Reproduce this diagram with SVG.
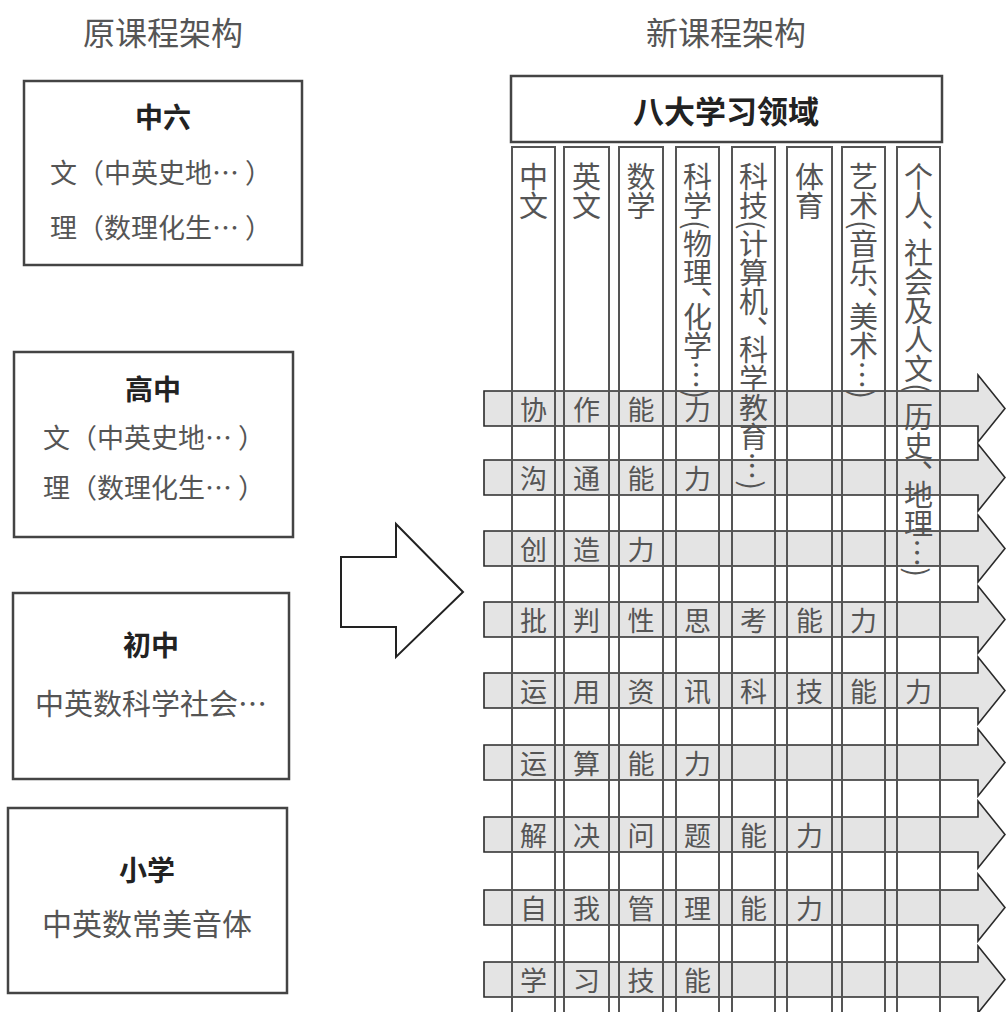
<svg xmlns="http://www.w3.org/2000/svg" width="1006" height="1012" viewBox="0 0 1006 1012">
<style>
text{font-family:"Noto Sans CJK SC","Noto Sans CJK JP",sans-serif;}
.title{font-size:32px;fill:#555;text-anchor:middle;}
.bt{font-size:28px;font-weight:bold;fill:#222;text-anchor:middle;}
.body{font-size:27px;fill:#555;}
.mid{text-anchor:middle;}
.box{fill:#fff;stroke:#444;stroke-width:2.5;}
.col{fill:none;stroke:#555;stroke-width:2;}
.arr{fill:#e4e4e4;stroke:#2a2a2a;stroke-width:1.6;}
.cell{font-size:27px;fill:#555;text-anchor:middle;}
.vh{font-size:29px;fill:#555;writing-mode:vertical-rl;}
.big{fill:#fff;stroke:#222;stroke-width:2;}
</style>
<rect width="1006" height="1012" fill="#fff"/>
<text class="title" x="163" y="45">原课程架构</text>
<text class="title" x="726" y="45">新课程架构</text>

<g id="box-zhongliu">
<rect class="box" x="24" y="81" width="278" height="184"/>
<text class="bt" x="163" y="128">中六</text>
<text class="body" x="50" y="183">文（中英史地…<tspan dx="6">）</tspan></text>
<text class="body" x="50" y="238">理（数理化生…<tspan dx="6">）</tspan></text>
</g>
<g id="box-gaozhong">
<rect class="box" x="14" y="352" width="279" height="185"/>
<text class="bt" x="153" y="400">高中</text>
<text class="body" x="43" y="448">文（中英史地…<tspan dx="6">）</tspan></text>
<text class="body" x="43" y="498">理（数理化生…<tspan dx="6">）</tspan></text>
</g>
<g id="box-chuzhong">
<rect class="box" x="13" y="593" width="276" height="186"/>
<text class="bt" x="151" y="656">初中</text>
<text class="body mid" x="151" y="715" style="font-size:29px">中英数科学社会…</text>
</g>
<g id="box-xiaoxue">
<rect class="box" x="8" y="808" width="279" height="185"/>
<text class="bt" x="147" y="881">小学</text>
<text class="body mid" x="147" y="935" style="font-size:30px">中英数常美音体</text>
</g>

<g id="connectors">
<polygon class="big" points="341,557 396,557 396,524 463,592 396,657 396,627 341,627"/>
</g>

<g id="header">
<rect class="box" x="511" y="76" width="431" height="66"/>
<text class="bt" x="726" y="123" style="font-size:31px">八大学习领域</text>
</g>

<g id="rows">
<g id="row-1"><polygon class="arr" points="484,391 978,391 978,375 1005,408.5 978,442 978,426 484,426"/>
<text class="cell" x="533.5" y="420">协</text><text class="cell" x="586.5" y="420">作</text><text class="cell" x="641" y="420">能</text><text class="cell" x="697.5" y="420">力</text></g>
<g id="row-2"><polygon class="arr" points="484,460 978,460 978,444 1005,477.5 978,511 978,495 484,495"/>
<text class="cell" x="533.5" y="489">沟</text><text class="cell" x="586.5" y="489">通</text><text class="cell" x="641" y="489">能</text><text class="cell" x="697.5" y="489">力</text></g>
<g id="row-3"><polygon class="arr" points="484,531 978,531 978,515 1005,548.5 978,582 978,566 484,566"/>
<text class="cell" x="533.5" y="560">创</text><text class="cell" x="586.5" y="560">造</text><text class="cell" x="641" y="560">力</text></g>
<g id="row-4"><polygon class="arr" points="484,602 978,602 978,586 1005,619.5 978,653 978,637 484,637"/>
<text class="cell" x="533.5" y="631">批</text><text class="cell" x="586.5" y="631">判</text><text class="cell" x="641" y="631">性</text><text class="cell" x="697.5" y="631">思</text><text class="cell" x="753.5" y="631">考</text><text class="cell" x="809.5" y="631">能</text><text class="cell" x="863.5" y="631">力</text></g>
<g id="row-5"><polygon class="arr" points="484,673 978,673 978,657 1005,690.5 978,724 978,708 484,708"/>
<text class="cell" x="533.5" y="702">运</text><text class="cell" x="586.5" y="702">用</text><text class="cell" x="641" y="702">资</text><text class="cell" x="697.5" y="702">讯</text><text class="cell" x="753.5" y="702">科</text><text class="cell" x="809.5" y="702">技</text><text class="cell" x="863.5" y="702">能</text><text class="cell" x="918.5" y="702">力</text></g>
<g id="row-6"><polygon class="arr" points="484,745 978,745 978,729 1005,762.5 978,796 978,780 484,780"/>
<text class="cell" x="533.5" y="774">运</text><text class="cell" x="586.5" y="774">算</text><text class="cell" x="641" y="774">能</text><text class="cell" x="697.5" y="774">力</text></g>
<g id="row-7"><polygon class="arr" points="484,817 978,817 978,801 1005,834.5 978,868 978,852 484,852"/>
<text class="cell" x="533.5" y="846">解</text><text class="cell" x="586.5" y="846">决</text><text class="cell" x="641" y="846">问</text><text class="cell" x="697.5" y="846">题</text><text class="cell" x="753.5" y="846">能</text><text class="cell" x="809.5" y="846">力</text></g>
<g id="row-8"><polygon class="arr" points="484,890 978,890 978,874 1005,907.5 978,941 978,925 484,925"/>
<text class="cell" x="533.5" y="919">自</text><text class="cell" x="586.5" y="919">我</text><text class="cell" x="641" y="919">管</text><text class="cell" x="697.5" y="919">理</text><text class="cell" x="753.5" y="919">能</text><text class="cell" x="809.5" y="919">力</text></g>
<g id="row-9"><polygon class="arr" points="484,962 978,962 978,946 1005,979.5 978,1013 978,997 484,997"/>
<text class="cell" x="533.5" y="991">学</text><text class="cell" x="586.5" y="991">习</text><text class="cell" x="641" y="991">技</text><text class="cell" x="697.5" y="991">能</text></g>
</g>

<g id="columns">
<g id="col-1"><rect class="col" x="512" y="147" width="43" height="870"/><text class="vh" x="533.5" y="162">中文</text></g>
<g id="col-2"><rect class="col" x="564" y="147" width="45" height="870"/><text class="vh" x="586.5" y="162">英文</text></g>
<g id="col-3"><rect class="col" x="619" y="147" width="44" height="870"/><text class="vh" x="641" y="162">数学</text></g>
<g id="col-4"><rect class="col" x="676" y="147" width="43" height="870"/><text class="vh" x="697.5" y="162">科学(物理、<tspan y="302">化学…)</tspan></text></g>
<g id="col-5"><rect class="col" x="732" y="147" width="43" height="870"/><text class="vh" x="753.5" y="162">科技(计算机、<tspan y="335">科学教育…)</tspan></text></g>
<g id="col-6"><rect class="col" x="787" y="147" width="45" height="870"/><text class="vh" x="809.5" y="162">体育</text></g>
<g id="col-7"><rect class="col" x="842" y="147" width="43" height="870"/><text class="vh" x="863.5" y="162">艺术(音乐、<tspan y="302">美术…)</tspan></text></g>
<g id="col-8"><rect class="col" x="897" y="147" width="43" height="870"/><text class="vh" x="918.5" y="162">个人、<tspan y="238">社会及人文(</tspan><tspan y="402">历史、</tspan><tspan y="480">地理…)</tspan></text></g>
</g>
</svg>
